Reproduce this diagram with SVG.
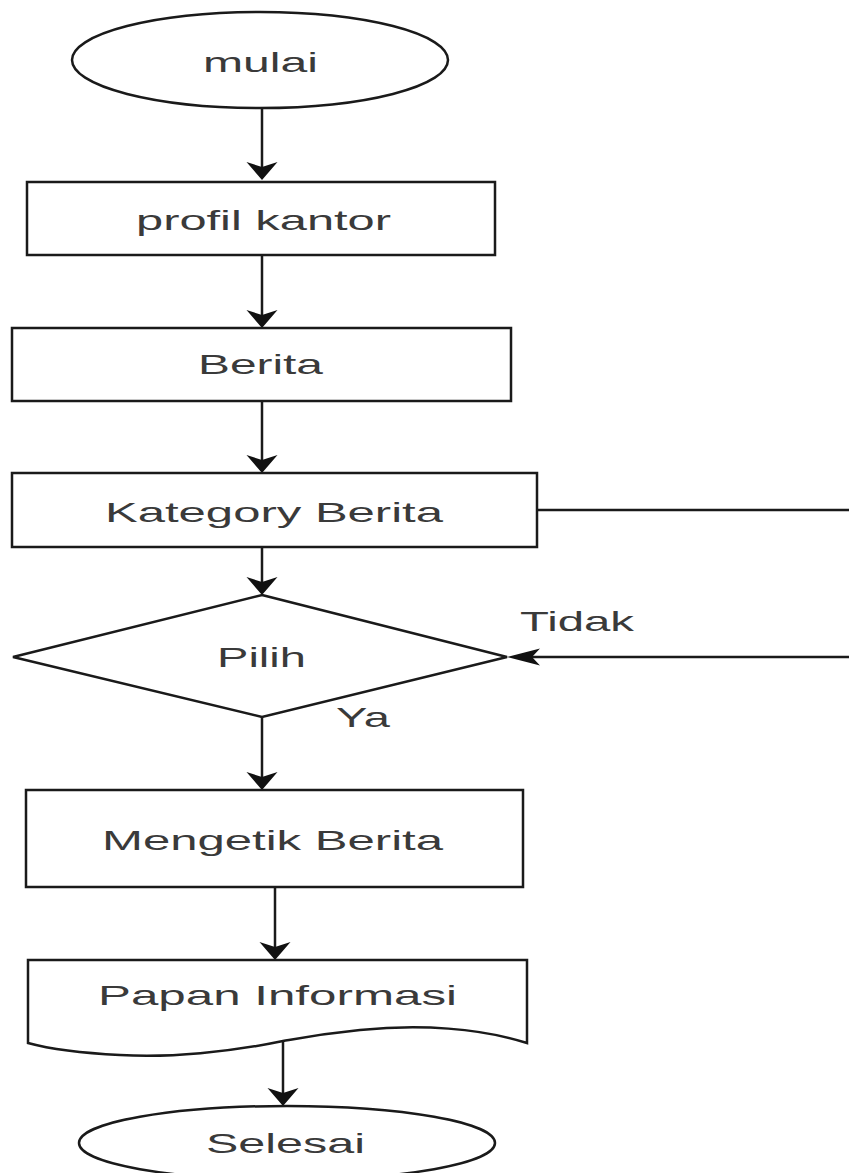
<svg xmlns="http://www.w3.org/2000/svg" width="849" height="1173" viewBox="0 0 849 1173">
  <style>
    .shape { fill: #ffffff; stroke: #1a1a1a; stroke-width: 2.5; }
    .edge { fill: none; stroke: #1a1a1a; stroke-width: 2.5; }
    .label { font-family: "Liberation Sans", Arial, sans-serif; font-size: 28px; fill: #3a3a3a; }
  </style>
  <defs>
    <!-- vertical flow arrowhead: short and wide -->
    <marker id="arrowV" markerUnits="userSpaceOnUse" orient="auto" markerWidth="20" markerHeight="33" refX="10" refY="16" overflow="visible">
      <path d="M18,16 L0,0.5 L5,16 L0,31.5 Z" fill="#111111"/>
    </marker>
    <!-- horizontal flow arrowhead: long and narrow -->
    <marker id="arrowH" markerUnits="userSpaceOnUse" orient="auto" markerWidth="34" markerHeight="18" refX="25" refY="9" overflow="visible">
      <path d="M33,9 L0,0.5 L8,9 L0,17.5 Z" fill="#111111"/>
    </marker>
  </defs>

  <rect width="849" height="1173" fill="#ffffff"/>

  <!-- connectors -->
  <g id="connectors">
    <line class="edge" x1="262" y1="108" x2="262" y2="172" marker-end="url(#arrowV)"/>
    <line class="edge" x1="262" y1="255" x2="262" y2="320" marker-end="url(#arrowV)"/>
    <line class="edge" x1="262" y1="401" x2="262" y2="465" marker-end="url(#arrowV)"/>
    <line class="edge" x1="262" y1="547" x2="262" y2="587" marker-end="url(#arrowV)"/>
    <line class="edge" x1="537" y1="510" x2="849" y2="510"/>
    <line class="edge" x1="849" y1="657" x2="515" y2="657" marker-end="url(#arrowH)"/>
    <line class="edge" x1="262" y1="717" x2="262" y2="782" marker-end="url(#arrowV)"/>
    <line class="edge" x1="275" y1="887" x2="275" y2="952" marker-end="url(#arrowV)"/>
    <line class="edge" x1="283" y1="1040" x2="283" y2="1098" marker-end="url(#arrowV)"/>
    <text class="label" x="520" y="631" textLength="114" lengthAdjust="spacingAndGlyphs">Tidak</text>
    <text class="label" x="336" y="727" textLength="54" lengthAdjust="spacingAndGlyphs">Ya</text>
  </g>

  <g id="start">
    <ellipse class="shape" cx="260" cy="60" rx="188" ry="48"/>
    <text class="label" x="203" y="72" textLength="115" lengthAdjust="spacingAndGlyphs">mulai</text>
  </g>

  <g id="profil-kantor">
    <rect class="shape" x="27" y="182" width="468" height="73"/>
    <text class="label" x="136" y="230" textLength="255" lengthAdjust="spacingAndGlyphs">profil kantor</text>
  </g>

  <g id="berita">
    <rect class="shape" x="12" y="328" width="499" height="73"/>
    <text class="label" x="198" y="374" textLength="125" lengthAdjust="spacingAndGlyphs">Berita</text>
  </g>

  <g id="kategory-berita">
    <rect class="shape" x="12" y="473" width="525" height="74"/>
    <text class="label" x="105" y="522" textLength="338" lengthAdjust="spacingAndGlyphs">Kategory Berita</text>
  </g>

  <g id="pilih">
    <polygon class="shape" points="262,595 507,657 262,717 13,657"/>
    <text class="label" x="217" y="667" textLength="89" lengthAdjust="spacingAndGlyphs">Pilih</text>
  </g>

  <g id="mengetik-berita">
    <rect class="shape" x="26" y="790" width="497" height="97"/>
    <text class="label" x="102" y="850" textLength="341" lengthAdjust="spacingAndGlyphs">Mengetik Berita</text>
  </g>

  <g id="papan-informasi">
    <path class="shape" d="M28,960 H527 V1043 C480,1028 420,1024 360,1030 C320,1034 300,1038 283,1041 C230,1052 170,1058 120,1055 C80,1053 50,1049 28,1043 Z"/>
    <text class="label" x="98" y="1005" textLength="359" lengthAdjust="spacingAndGlyphs">Papan Informasi</text>
  </g>

  <g id="selesai">
    <ellipse class="shape" cx="287" cy="1143" rx="208" ry="37"/>
    <text class="label" x="206" y="1153" textLength="159" lengthAdjust="spacingAndGlyphs">Selesai</text>
  </g>
</svg>
